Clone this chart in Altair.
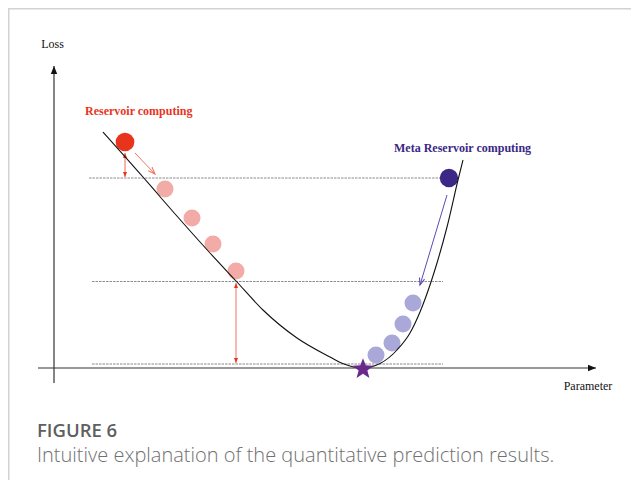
import math
import altair as alt
import pandas as pd

# ---------------- values (parameter / loss units) ----------------
curve_param = [0.98, 1.78, 2.16, 3.12, 3.65, 4.18, 4.86, 5.52, 5.80, 6.16,
               6.52, 6.86, 7.12, 7.32, 7.54, 7.66, 7.86, 8.08, 8.18]
curve_loss = [4.72, 3.82, 3.38, 2.30, 1.73, 1.16, 0.60, 0.22, 0.08, 0.00,
              0.09, 0.36, 0.70, 1.12, 1.72, 2.10, 2.82, 3.76, 4.16]

rc_param = [1.42, 2.22, 2.76, 3.18, 3.64]      # Reservoir computing steps
rc_loss = [4.52, 3.58, 3.00, 2.48, 1.94]
mrc_param = [7.90, 7.18, 6.98, 6.76, 6.44]     # Meta Reservoir computing steps
mrc_loss = [3.80, 1.30, 0.88, 0.50, 0.26]
opt_param = [6.18]                              # optimum (star)
opt_loss = [0.00]

level_loss = [3.80, 1.73, 0.08]                 # dashed reference levels
level_start = [0.70, 0.76, 0.76]
level_end = [7.72, 7.78, 7.78]

labels = ["Loss", "Parameter", "Reservoir computing", "Meta Reservoir computing"]
caption_title = "FIGURE 6"
caption_text = "Intuitive explanation of the quantitative prediction results."

# ---------------- layout ----------------
W, H = 623, 472
XD = [-0.92, 11.54]
YD = [-2.24, 7.20]
PX = 50.0  # pixels per unit

xs = alt.Scale(domain=XD, nice=False, zero=False)
ys = alt.Scale(domain=YD, nice=False, zero=False)


def X(f="x"):
    return alt.X(f"{f}:Q", scale=xs, axis=None)


def Y(f="y"):
    return alt.Y(f"{f}:Q", scale=ys, axis=None)


def seg_layer(rows, dash=None):
    df = pd.DataFrame(rows)
    kw = dict()
    if dash is not None:
        kw["strokeDash"] = dash
    return alt.Chart(df).mark_rule(**kw).encode(
        x=X("x"), y=Y("y"), x2="x2:Q", y2="y2:Q",
        color=alt.Color("c:N", scale=None),
        strokeWidth=alt.StrokeWidth("w:Q", scale=None),
    )


def head(x0, y0, x1, y1, r_px):
    dx, dy = x1 - x0, y1 - y0
    n = math.hypot(dx, dy)
    ang = math.degrees(math.atan2(dx, dy)) % 360
    r = r_px / PX
    return dict(x=x1 - r * dx / n, y=y1 - r * dy / n, a=ang)


def star_path(inner=0.42):
    pts = []
    for k in range(10):
        rad = 1.0 if k % 2 == 0 else inner
        t = math.radians(-90 + 36 * k)
        pts.append((rad * math.cos(t), rad * math.sin(t) + 0.1))
    return "M" + "L".join(f"{px:.3f},{py:.3f}" for px, py in pts) + "Z"


# border of the card
border = seg_layer([
    dict(x=XD[0], x2=XD[1], y=7.185, y2=7.185, c="#d2d2d2", w=1.5),
    dict(x=-0.905, x2=-0.905, y=YD[0], y2=7.185, c="#d2d2d2", w=1.5),
])

# dashed levels
dashed = seg_layer([
    dict(x=level_start[i], x2=level_end[i], y=level_loss[i], y2=level_loss[i],
         c="#8c8c8c" if i < 2 else "#b0b0b0", w=1.0 if i < 2 else 1.4)
    for i in range(3)
], dash=[2.5, 1])

# axes
ax_x = (-0.32, 0.0, 10.84, 0.0)
ax_y = (0.0, -0.30, 0.0, 6.04)
axes = seg_layer([
    dict(x=ax_x[0], x2=ax_x[2], y=0, y2=0, c="#333333", w=1.2),
    dict(x=0, x2=0, y=ax_y[1], y2=ax_y[3], c="#333333", w=1.2),
])
axis_heads = alt.Chart(pd.DataFrame([
    head(*ax_x, 4), head(*ax_y, 4)
])).mark_point(shape="M0,-1L0.8,1L-0.8,1Z", filled=True, opacity=1,
               color="#111111", size=64).encode(
    x=X(), y=Y(), angle=alt.Angle("a:Q", scale=None))

# arrows
red_short = (1.42, 4.30, 1.42, 3.82)
red_diag = (1.62, 4.30, 2.02, 3.88)
red_long = (3.64, 1.70, 3.64, 0.10)
blue_arr = (7.86, 3.46, 7.32, 1.66)

arrows = seg_layer([
    dict(x=red_short[0], y=red_short[1], x2=red_short[2], y2=red_short[3], c="#f08a7c", w=1.3),
    dict(x=red_diag[0], y=red_diag[1], x2=red_diag[2], y2=red_diag[3], c="#f07462", w=1.0),
    dict(x=red_long[0], y=red_long[1], x2=red_long[2], y2=red_long[3], c="#f6a8a1", w=1.6),
    dict(x=blue_arr[0], y=blue_arr[1], x2=blue_arr[2], y2=blue_arr[3], c="#5a4cb4", w=1.0),
])

filled_heads = []
for (a, b, c, d) in [red_short, red_long]:
    filled_heads.append(head(a, b, c, d, 2.5))
    filled_heads.append(head(c, d, a, b, 2.5))
fheads = alt.Chart(pd.DataFrame(filled_heads)).mark_point(
    shape="M0,-1L0.8,1L-0.8,1Z", filled=True, opacity=1, color="#e8341c", size=25
).encode(x=X(), y=Y(), angle=alt.Angle("a:Q", scale=None))

open_heads = pd.DataFrame([
    dict(**head(*red_diag, 3.5), c="#f07462"),
    dict(**head(*blue_arr, 3.5), c="#5a4cb4"),
])
oheads = alt.Chart(open_heads).mark_point(
    shape="M-0.75,1L0,-1L0.75,1", filled=False, opacity=1, size=49, strokeWidth=1.1
).encode(x=X(), y=Y(), angle=alt.Angle("a:Q", scale=None),
         color=alt.Color("c:N", scale=None))

# dots
dot_rows = []
for i, (p, l) in enumerate(zip(rc_param, rc_loss)):
    dot_rows.append(dict(x=p, y=l, c="#e8341c" if i == 0 else "#f2aba7", s=350 if i == 0 else 290))
for i, (p, l) in enumerate(zip(mrc_param, mrc_loss)):
    dot_rows.append(dict(x=p, y=l, c="#3a2786" if i == 0 else "#a9a8d8", s=340 if i == 0 else 290))
dots = alt.Chart(pd.DataFrame(dot_rows)).mark_circle(opacity=1).encode(
    x=X(), y=Y(), color=alt.Color("c:N", scale=None), size=alt.Size("s:Q", scale=None))

# loss curve
curve = alt.Chart(pd.DataFrame({"x": curve_param, "y": curve_loss})).mark_line(
    color="#111111", strokeWidth=1.1, interpolate="monotone").encode(x=X(), y=Y(), order="x:Q")

# optimum star
star = alt.Chart(pd.DataFrame({"x": opt_param, "y": opt_loss})).mark_point(
    shape=star_path(), filled=True, opacity=1, color="#6a2a8c", size=480).encode(x=X(), y=Y())

# texts
plain = alt.Chart(pd.DataFrame([
    dict(x=-0.03, y=6.48, t=labels[0]),
    dict(x=10.68, y=-0.36, t=labels[1]),
])).mark_text(font="Liberation Serif", fontSize=12, color="#111111",
              align="center", baseline="middle").encode(x=X(), y=Y(), text="t:N")

bold = alt.Chart(pd.DataFrame([
    dict(x=0.62, y=5.14, t=labels[2], c="#e8341c"),
    dict(x=6.80, y=4.40, t=labels[3], c="#3a2786"),
])).mark_text(font="Liberation Serif", fontSize=12, fontWeight="bold",
              align="left", baseline="middle").encode(
    x=X(), y=Y(), text="t:N", color=alt.Color("c:N", scale=None))

cap1 = alt.Chart(pd.DataFrame([dict(x=-0.34, y=-1.26, t=caption_title)])).mark_text(
    font="Open Sans", fontSize=18.5, fontWeight=600, color="#5f5f5f",
    align="left", baseline="middle").encode(x=X(), y=Y(), text="t:N")
cap2 = alt.Chart(pd.DataFrame([dict(x=-0.34, y=-1.76, t=caption_text)])).mark_text(
    font="Open Sans", fontSize=20, fontWeight=300, color="#707070",
    align="left", baseline="middle").encode(x=X(), y=Y(), text="t:N")

chart = alt.layer(
    border, dashed, axes, axis_heads, arrows, fheads, oheads, dots, curve, star,
    plain, bold, cap1, cap2
).properties(
    width=W, height=H, padding=0, autosize=alt.AutoSizeParams(type="none"),
    background="white"
).configure_view(stroke=None)

chart.save("out.html", embed_options={"renderer": "svg", "actions": False})
